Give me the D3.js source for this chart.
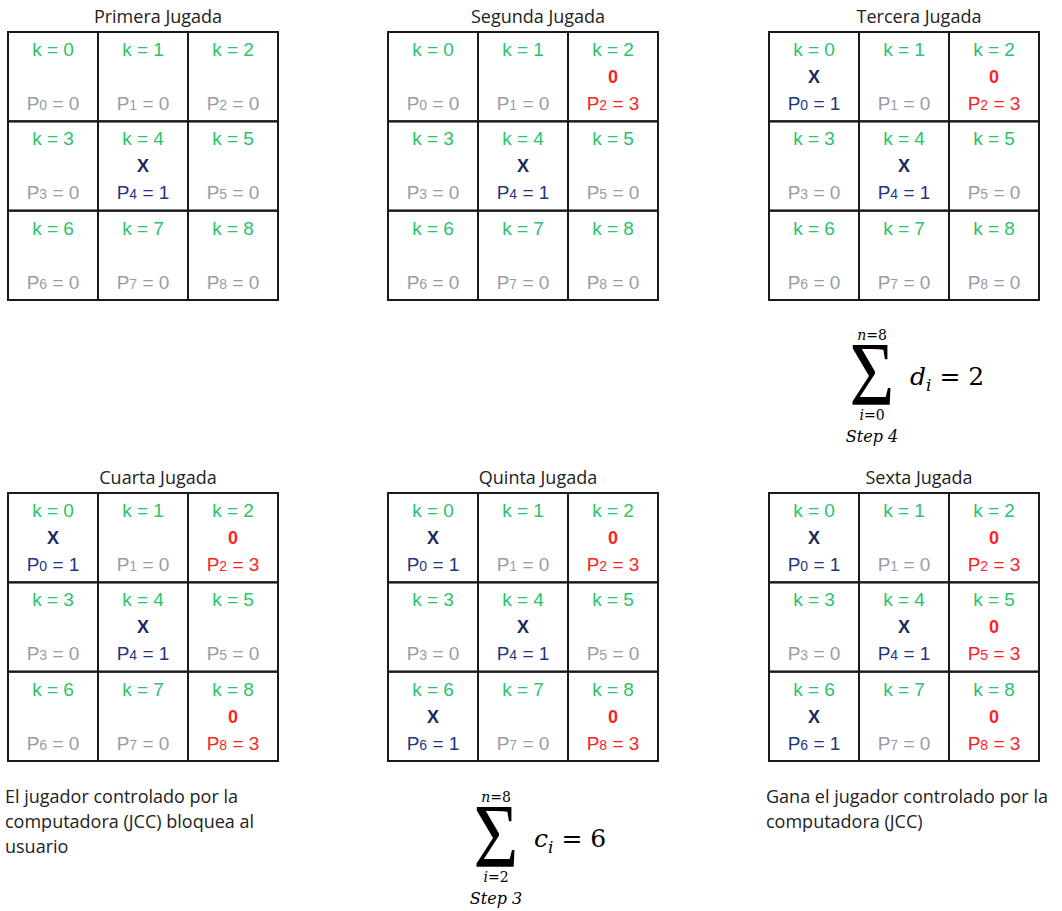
<!DOCTYPE html>
<html>
<head>
<meta charset="utf-8">
<script src="https://cdn.jsdelivr.net/npm/d3@7"></script>
<style>
  body { margin: 0; background: #fff; }
</style>
</head>
<body>
<div id="my_dataviz"></div>
<script>
// board titles, one per move
var titles = ["Primera Jugada", "Segunda Jugada", "Tercera Jugada",
              "Cuarta Jugada", "Quinta Jugada", "Sexta Jugada"];

// marks in cells k = 0..8 ("X" user, "0" computer, "" empty)
var marks1 = ["", "", "", "", "X", "", "", "", ""];
var marks2 = ["", "", "0", "", "X", "", "", "", ""];
var marks3 = ["X", "", "0", "", "X", "", "", "", ""];
var marks4 = ["X", "", "0", "", "X", "", "", "", "0"];
var marks5 = ["X", "", "0", "", "X", "", "X", "", "0"];
var marks6 = ["X", "", "0", "", "X", "0", "X", "", "0"];

// P_k values
var p1 = [0, 0, 0, 0, 1, 0, 0, 0, 0];
var p2 = [0, 0, 3, 0, 1, 0, 0, 0, 0];
var p3 = [1, 0, 3, 0, 1, 0, 0, 0, 0];
var p4 = [1, 0, 3, 0, 1, 0, 0, 0, 3];
var p5 = [1, 0, 3, 0, 1, 0, 1, 0, 3];
var p6 = [1, 0, 3, 0, 1, 3, 1, 0, 3];

var allMarks = [marks1, marks2, marks3, marks4, marks5, marks6];
var allP = [p1, p2, p3, p4, p5, p6];

// notes under the boards
var noteLeft = ["El jugador controlado por la", "computadora (JCC) bloquea al", "usuario"];
var noteRight = ["Gana el jugador controlado por la", "computadora (JCC)"];

var width = 1062, height = 911;
var svg = d3.select("#my_dataviz")
  .append("svg")
    .attr("width", width)
    .attr("height", height);

var boardX = d3.scaleOrdinal().domain([0, 1, 2]).range([8, 388, 769]);
var boardY = d3.scaleOrdinal().domain([0, 1]).range([32, 493]);
var cx = d3.scaleBand().domain([0, 1, 2]).range([0, 270]);
var cy = d3.scaleBand().domain([0, 1, 2]).range([0, 268]);

var green = "#2ac46b", gray = "#9a9ca4", navy = "#1f3680", navyX = "#1b2a5e", red = "#ff1f1f";

function pColor(m) {
  if (m === "X") return navy;
  if (m === "0") return red;
  return gray;
}

titles.forEach(function(t, b) {
  var g = svg.append("g")
    .attr("transform", "translate(" + boardX(b % 3) + "," + boardY(Math.floor(b / 3)) + ")");

  g.append("text")
    .attr("x", 135 + 15)
    .attr("y", -9)
    .attr("text-anchor", "middle")
    .style("font-family", "'Open Sans', sans-serif")
    .style("font-size", "18px")
    .style("fill", "#222")
    .text(t);

  var cells = g.selectAll("g.cell")
    .data(d3.range(9))
    .enter().append("g")
      .attr("class", "cell")
      .attr("transform", function(k) { return "translate(" + cx(k % 3) + "," + cy(Math.floor(k / 3)) + ")"; });

  cells.append("rect")
    .attr("width", cx.bandwidth())
    .attr("height", cy.bandwidth())
    .style("fill", "none")
    .style("stroke", "#1a1a1a")
    .style("stroke-width", 2);

  var mid = cx.bandwidth() / 2;

  cells.append("text")
    .attr("x", mid)
    .attr("y", 24)
    .attr("text-anchor", "middle")
    .style("font-family", "'Liberation Sans', Arial, sans-serif")
    .style("font-size", "19px")
    .style("fill", green)
    .text(function(k) { return "k = " + k; });

  cells.append("text")
    .attr("x", mid)
    .attr("y", 51)
    .attr("text-anchor", "middle")
    .style("font-family", "'Liberation Sans', Arial, sans-serif")
    .style("font-size", "18px")
    .style("font-weight", "bold")
    .style("fill", function(k) { return allMarks[b][k] === "X" ? navyX : red; })
    .text(function(k) { return allMarks[b][k]; });

  var pt = cells.append("text")
    .attr("x", mid)
    .attr("y", 78)
    .attr("text-anchor", "middle")
    .style("font-family", "'Liberation Sans', Arial, sans-serif")
    .style("font-size", "19px")
    .style("fill", function(k) { return pColor(allMarks[b][k]); });
  pt.append("tspan").text("P");
  pt.append("tspan").style("font-size", "14px").text(function(k) { return k; });
  pt.append("tspan").text(function(k) { return " = " + allP[b][k]; });
});

// summation formulas
function formula(x, y, top, bottom, step, letter, value) {
  var g = svg.append("g").attr("transform", "translate(" + x + "," + y + ")");
  var serif = "'DejaVu Serif', 'Liberation Serif', serif";
  g.append("text")
    .attr("transform", "translate(0,73) scale(1,1.18)")
    .attr("text-anchor", "middle")
    .style("font-family", "'Liberation Serif', serif")
    .style("font-size", "77px")
    .text("\u03A3");
  var t = g.append("text").attr("x", 0).attr("y", 8).attr("text-anchor", "middle")
    .style("font-family", serif).style("font-size", "14px");
  t.append("tspan").style("font-style", "italic").text("n");
  t.append("tspan").text("=" + top);
  var b = g.append("text").attr("x", 0).attr("y", 88).attr("text-anchor", "middle")
    .style("font-family", serif).style("font-size", "14px");
  b.append("tspan").style("font-style", "italic").text("i");
  b.append("tspan").text("=" + bottom);
  g.append("text").attr("x", 0).attr("y", 110).attr("text-anchor", "middle")
    .style("font-family", serif).style("font-size", "16px").style("font-style", "italic")
    .text("Step " + step);
  var e = g.append("text").attr("x", 38).attr("y", 53)
    .style("font-family", serif).style("font-size", "25px");
  e.append("tspan").style("font-style", "italic").text(letter);
  e.append("tspan").style("font-style", "italic").style("font-size", "17px").attr("dy", 6).text("i");
  e.append("tspan").attr("dy", -6).text(" = " + value);
}
formula(872, 332, 8, 0, 4, "d", 2);
formula(496, 794, 8, 2, 3, "c", 6);

// notes
function note(x, y, lines) {
  svg.append("g").selectAll("text")
    .data(lines)
    .enter().append("text")
      .attr("x", x)
      .attr("y", function(d, i) { return y + i * 25; })
      .style("font-family", "'Open Sans', sans-serif")
      .style("font-size", "18px")
      .style("fill", "#222")
      .text(function(d) { return d; });
}
note(5, 803, noteLeft);
note(766, 803, noteRight);
</script>
</body>
</html>
